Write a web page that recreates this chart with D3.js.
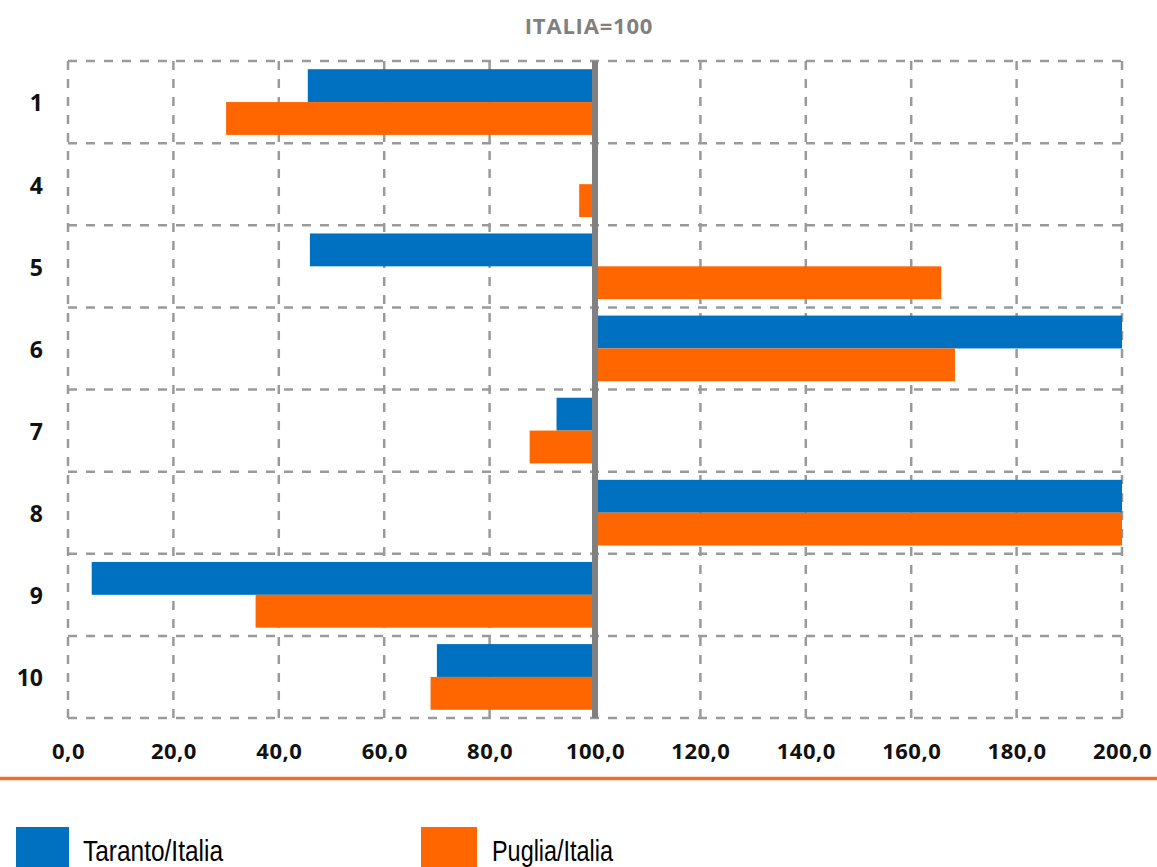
<!DOCTYPE html>
<html><head><meta charset="utf-8">
<script src="https://cdn.jsdelivr.net/npm/d3@7"></script>
<style>body{margin:0;background:#fff;} svg{display:block;}</style>
</head><body>
<svg id="chart" width="1157" height="867"></svg>
<script>
const categories = ["1","4","5","6","7","8","9","10"];
const seriesNames = ["Taranto/Italia","Puglia/Italia"];
const taranto = [45.5, null, 45.9, 200, 92.7, 200, 4.5, 70.0];
const puglia  = [30.0, 97.0, 165.7, 168.3, 87.6, 200, 35.6, 68.8];
const xTicks = [0,20,40,60,80,100,120,140,160,180,200];
const colors = ["#0070C0","#FF6600"];
const title = "ITALIA=100";
const baseline = 100;

(function(){
const svg = d3.select("#chart");
const pL = 68, pR = 1122, pT = 61, pB = 718;
const x = d3.scaleLinear().domain([0,200]).range([pL,pR]).clamp(true);
const y = d3.scaleBand().domain(categories).range([pT,pB]).paddingInner(0.2).paddingOuter(0.1);
const sub = d3.scaleBand().domain(seriesNames).range([0,y.bandwidth()]);
const fmt = d3.formatLocale({decimal:",",thousands:".",grouping:[3],currency:["","€"]}).format(".1f");

svg.append("text").attr("x",589).attr("y",25).attr("text-anchor","middle").attr("dominant-baseline","central")
  .attr("font-family","'Open Sans', sans-serif").attr("font-weight","bold").attr("font-size",22)
  .attr("letter-spacing",0.8).attr("fill","#808080").text(title);

const grid = svg.append("g").attr("stroke","#9a9a9a").attr("stroke-width",2.5).attr("stroke-dasharray","9,9").attr("fill","none");
xTicks.forEach(t=>{
  grid.append("line").attr("x1",x(t)).attr("x2",x(t)).attr("y1",pT).attr("y2",pB);
});
const step = y.step();
for(let i=0;i<=categories.length;i++){
  const yy = pT + i*step;
  grid.append("line").attr("x1",pL).attr("x2",pR).attr("y1",yy).attr("y2",yy);
}

const data = categories.map((c,i)=>({c, vals:[taranto[i],puglia[i]]}));
const g = svg.append("g");
data.forEach(d=>{
  d.vals.forEach((v,j)=>{
    if(v==null) return;
    const x0 = x(Math.min(v,baseline)), x1 = x(Math.max(v,baseline));
    g.append("rect").attr("x",x0).attr("width",x1-x0)
      .attr("y",y(d.c)+sub(seriesNames[j])).attr("height",sub.bandwidth())
      .attr("fill",colors[j]);
  });
});

svg.append("line").attr("x1",x(baseline)).attr("x2",x(baseline)).attr("y1",pT).attr("y2",pB)
  .attr("stroke","#808080").attr("stroke-width",6);

const xAxis = d3.axisBottom(x).tickValues(xTicks).tickFormat(fmt).tickSize(0).tickPadding(0);
const ax = svg.append("g").attr("transform",`translate(0,${pB+33})`).call(xAxis);
ax.select(".domain").remove();
ax.selectAll("text").attr("font-family","'Open Sans', sans-serif").attr("font-weight","bold")
  .attr("font-size",22).attr("letter-spacing",0.5).attr("fill","#111").attr("dy","0.35em").attr("y",0);

const yAxis = d3.axisLeft(y).tickSize(0).tickPadding(0);
const ay = svg.append("g").attr("transform",`translate(43,2)`).call(yAxis);
ay.select(".domain").remove();
ay.selectAll("text").attr("font-family","'Open Sans', sans-serif").attr("font-weight","bold")
  .attr("font-size",23).attr("fill","#111");

svg.append("line").attr("x1",0).attr("x2",1157).attr("y1",778.5).attr("y2",778.5)
  .attr("stroke","#EE6F2D").attr("stroke-width",3.5);

const legX = [16,421];
const legTextX = [83,492];
const legTextW = [140,121];
seriesNames.forEach((n,j)=>{
  svg.append("rect").attr("x",legX[j]).attr("y",827).attr("width",j?56:53).attr("height",45).attr("fill",colors[j]);
  svg.append("text").attr("x",legTextX[j]).attr("y",851).attr("dominant-baseline","central")
    .attr("font-family","'Liberation Sans', Arial, sans-serif").attr("font-size",29)
    .attr("textLength",legTextW[j]).attr("lengthAdjust","spacingAndGlyphs")
    .attr("fill","#000").text(n);
});
})();
</script>
</body></html>
